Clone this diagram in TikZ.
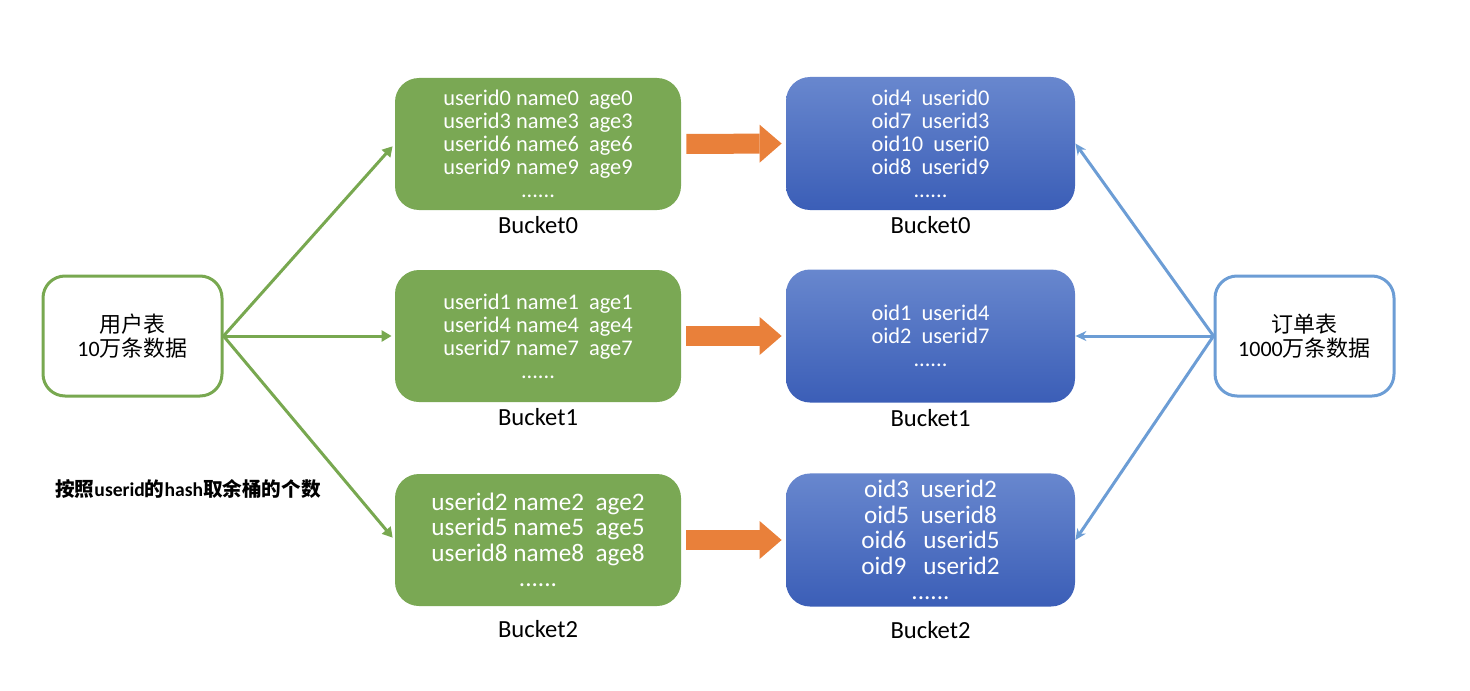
\documentclass[tikz,border=0pt]{standalone}
\usepackage{fontspec}
\setmainfont{Carlito}
\newfontfamily\cjk{Noto Sans CJK SC}
\usetikzlibrary{positioning,arrows.meta}
\definecolor{bucketgreen}{RGB}{122,168,84}
\definecolor{linegreen}{RGB}{120,168,80}
\definecolor{bluetop}{RGB}{104,135,206}
\definecolor{bluebot}{RGB}{59,94,183}
\definecolor{lineblue}{RGB}{108,157,213}
\definecolor{arroworange}{RGB}{233,128,58}

\begin{document}
\begin{tikzpicture}[x=0.5pt,y=-0.5pt,
  table/.style={draw,rounded corners=11pt,line width=1.5pt,fill=white,minimum
    width=89.5pt,minimum height=60pt,align=center,font=\fontsize{11}{12}\selectfont},
  gbucket/.style={fill=bucketgreen,rounded corners=12pt,minimum width=143pt,minimum
    height=66pt,align=center,text=white},
  bbucket/.style={top color=bluetop,bottom color=bluebot,rounded corners=12pt,minimum
    width=144.5pt,minimum height=66.5pt,align=center,text=white},
  small/.style={font=\fontsize{11.2}{11.5}\selectfont},
  big/.style={font=\fontsize{12.6}{12.75}\selectfont},
  bucketname/.style={inner sep=0pt,font=\fontsize{12.3}{14}\selectfont},
  hashline/.style={draw=linegreen,line width=1.5pt,shorten >=1.5pt,-{Triangle[length=5pt,width=5.5pt]}},
  joinline/.style={draw=lineblue,line width=1.5pt,-{Stealth[length=5.5pt,width=5pt]}},
  move/.style={draw=arroworange,line width=10pt,shorten <=2.5pt,shorten >=2pt,
    -{Triangle[length=11pt,width=19pt,line width=0pt]}}]

  \useasboundingbox (0,0) rectangle (1470,690);

  \node[table,draw=linegreen] (user) at (132.5,336) {{\cjk 用户表}\\10{\cjk 万条数据}};
  \node[table,draw=lineblue] (order) at (1304.5,336) {{\cjk 订单表}\\1000{\cjk 万条数据}};

  \node[gbucket,small] (g0) at (538,144) {userid0 name0~ age0\\userid3 name3~ age3\\
    userid6 name6~ age6\\userid9 name9~ age9\\......};
  \node[gbucket,small] (g1) at (538,336) {userid1 name1~ age1\\userid4 name4~ age4\\
    userid7 name7~ age7\\......};
  \node[gbucket,big] (g2) at (538,540) {userid2 name2~ age2\\userid5 name5~ age5\\
    userid8 name8~ age8\\......};

  \node[bbucket,small] (b0) at (930.5,143.5) {oid4~ userid0\\oid7~ userid3\\
    oid10~ useri0\\oid8~ userid9\\......};
  \node[bbucket,small] (b1) at (930.5,336) {oid1~ userid4\\oid2~ userid7\\......};
  \node[bbucket,big] (b2) at (930.5,540) {oid3~ userid2\\oid5~ userid8\\
    oid6~~ userid5\\oid9~~ userid2\\......};

  \node[bucketname,below=3pt of g0] (g0name) {Bucket0};
  \node[bucketname,below=3pt of g1] (g1name) {Bucket1};
  \node[bucketname,below=7pt of g2] (g2name) {Bucket2};
  \node[bucketname,below=3pt of b0] (b0name) {Bucket0};
  \node[bucketname,below=3pt of b1] (b1name) {Bucket1};
  \node[bucketname,below=7pt of b2] (b2name) {Bucket2};

  \node[font=\bfseries\fontsize{9.8}{12}\selectfont] (rule) at (188,489)
    {{\cjk 按照}userid{\cjk 的}hash{\cjk 取余桶的个数}};

  \foreach \b in {0,1,2} {
    \draw[hashline] (user.east) -- (g\b.west);
    \draw[joinline] (order.west) -- (b\b.east);
    \draw[move] (g\b.east) -- (b\b.west);
  }

\end{tikzpicture}
\end{document}
